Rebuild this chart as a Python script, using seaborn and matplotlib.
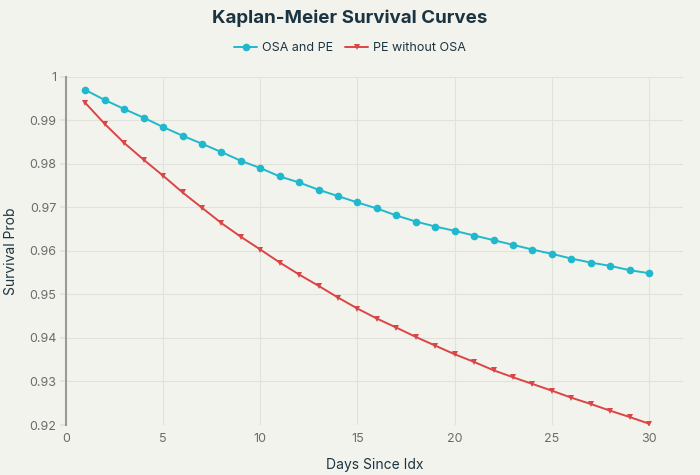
import matplotlib
matplotlib.use("Agg")
import matplotlib.pyplot as plt
import numpy as np
import pandas as pd
import seaborn as sns

# values
days = list(range(1, 31))
osa_and_pe = [
    0.99694, 0.99464, 0.99257, 0.99057, 0.98843, 0.98644, 0.98460, 0.98268, 0.98069, 0.97901,
    0.97709, 0.97570, 0.97402, 0.97257, 0.97111, 0.96973, 0.96812, 0.96674, 0.96559, 0.96460,
    0.96352, 0.96246, 0.96138, 0.96030, 0.95931, 0.95823, 0.95731, 0.95655, 0.95556, 0.95487,
]
pe_without_osa = [
    0.99395, 0.98912, 0.98476, 0.98092, 0.97724, 0.97341, 0.96989, 0.96636, 0.96322, 0.96030,
    0.95732, 0.95455, 0.95195, 0.94927, 0.94674, 0.94444, 0.94237, 0.94023, 0.93823, 0.93625,
    0.93448, 0.93257, 0.93097, 0.92943, 0.92789, 0.92628, 0.92483, 0.92329, 0.92184, 0.92030,
]
series_names = ["OSA and PE", "PE without OSA"]
y_ticks = [0.92, 0.93, 0.94, 0.95, 0.96, 0.97, 0.98, 0.99, 1.0]
y_tick_labels = ["0.92", "0.93", "0.94", "0.95", "0.96", "0.97", "0.98", "0.99", "1"]
x_ticks = [0, 5, 10, 15, 20, 25, 30]

BG = "#f3f3ee"
GRID = "#e2e2dc"
TEXT = "#1c3440"
TICK = "#6b6b6b"
palette = {"OSA and PE": "#1fb8cd", "PE without OSA": "#db4545"}
markers = {"OSA and PE": "o", "PE without OSA": "v"}

df = pd.DataFrame({
    "day": days * 2,
    "prob": osa_and_pe + pe_without_osa,
    "group": [series_names[0]] * len(days) + [series_names[1]] * len(days),
})

sns.set_theme(style="white")
plt.rcParams["font.family"] = ["Inter", "DejaVu Sans"]

fig = plt.figure(figsize=(7, 4.75), dpi=100, facecolor=BG)
ax = fig.add_axes([66 / 700, 1 - 425 / 475, (683 - 66) / 700, (425 - 76.7) / 475])
ax.set_facecolor(BG)

for name in series_names:
    sub = df[df["group"] == name]
    sns.lineplot(
        data=sub, x="day", y="prob", ax=ax, color=palette[name],
        marker=markers[name], markersize=5.5 if name == series_names[0] else 4.5,
        markeredgewidth=0, linewidth=1.4, label=name, legend=False,
    )

ax.set_xlim(0, 31.75)
ax.set_ylim(0.92, 1.0)
ax.set_xticks(x_ticks)
ax.set_xticklabels([str(t) for t in x_ticks])
ax.set_yticks(y_ticks)
ax.set_yticklabels(y_tick_labels)
ax.grid(True, color=GRID, linewidth=0.8)
ax.set_axisbelow(True)

for side in ["top", "right", "bottom"]:
    ax.spines[side].set_visible(False)
ax.spines["left"].set_color("#9a9a96")
ax.spines["left"].set_linewidth(1.5)

ax.tick_params(axis="y", length=4, color=GRID, labelsize=9, labelcolor=TICK, pad=3, left=True)
ax.tick_params(axis="x", length=0, labelsize=9, labelcolor=TICK, pad=6)

ax.set_xlabel("Days Since Idx", fontsize=10, color=TEXT, labelpad=9)
ax.set_ylabel("Survival Prob", fontsize=10, color=TEXT, labelpad=8)

fig.text(0.5, 1 - 18 / 475, "Kaplan-Meier Survival Curves", ha="center", va="center",
         fontsize=13.5, fontweight="bold", color=TEXT)

handles, labels = ax.get_legend_handles_labels()
fig.legend(handles, labels, loc="center", bbox_to_anchor=(0.5, 1 - 48 / 475), ncol=2,
           frameon=False, fontsize=9, labelcolor=TEXT, handlelength=1.8,
           handletextpad=0.4, columnspacing=1.0)

fig.savefig("out.png", dpi=100, facecolor=BG)
plt.close(fig)
